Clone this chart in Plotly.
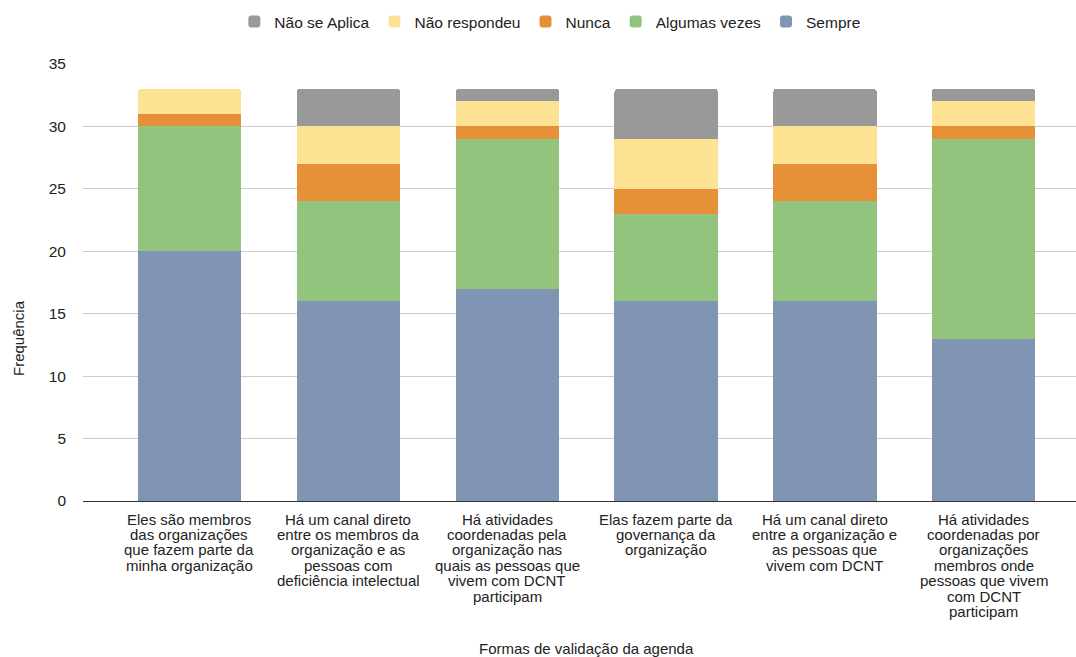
import plotly.graph_objects as go

categories = [
    "Eles são membros<br>das organizações<br>que fazem parte da<br>minha organização",
    "Há um canal direto<br>entre os membros da<br>organização e as<br>pessoas com<br>deficiência intelectual",
    "Há atividades<br>coordenadas pela<br>organização nas<br>quais as pessoas que<br>vivem com DCNT<br>participam",
    "Elas fazem parte da<br>governança da<br>organização",
    "Há um canal direto<br>entre a organização e<br>as pessoas que<br>vivem com DCNT",
    "Há atividades<br>coordenadas por<br>organizações<br>membros onde<br>pessoas que vivem<br>com DCNT<br>participam",
]

sempre = [20, 16, 17, 16, 16, 13]
algumas_vezes = [10, 8, 12, 7, 8, 16]
nunca = [1, 3, 1, 2, 3, 1]
nao_respondeu = [2, 3, 2, 4, 3, 2]
nao_se_aplica = [0, 3, 1, 4, 3, 1]

series = [
    ("Sempre", sempre, "#8094b4"),
    ("Algumas vezes", algumas_vezes, "#93c47d"),
    ("Nunca", nunca, "#e69138"),
    ("Não respondeu", nao_respondeu, "#fde294"),
    ("Não se Aplica", nao_se_aplica, "#999999"),
]

x_idx = list(range(len(categories)))
font_family = "Liberation Sans, Arial, sans-serif"
text_color = "#222222"

W, H = 1076, 657
ML, MR, MT, MB = 83, 0, 64, 156
plot_w = W - ML - MR
plot_h = H - MT - MB


def px_x(px):
    return (px - ML) / plot_w


def px_y(py):
    return (H - MB - py) / plot_h


fig = go.Figure()
for name, vals, color in series:
    fig.add_trace(go.Bar(
        x=x_idx, y=vals, name=name,
        marker=dict(color=color, line=dict(width=0)),
        width=0.65,
    ))

# Category labels: one annotation per line so the wrapped text keeps a tight line pitch
line_pitch = 15.4
for i, label in enumerate(categories):
    for j, line in enumerate(label.split("<br>")):
        fig.add_annotation(
            x=i, xref="x", y=0, yref="paper",
            text=line, showarrow=False,
            xanchor="center", yanchor="middle",
            yshift=-18 - j * line_pitch,
            font=dict(family=font_family, size=15, color=text_color),
        )

# Axis titles
fig.add_annotation(
    x=px_x(586), xref="paper", y=px_y(648), yref="paper",
    text="Formas de validação da agenda", showarrow=False,
    xanchor="center", yanchor="middle",
    font=dict(family=font_family, size=15, color=text_color),
)
fig.add_annotation(
    x=px_x(18), xref="paper", y=px_y(338), yref="paper",
    text="Frequência", showarrow=False, textangle=-90,
    xanchor="center", yanchor="middle",
    font=dict(family=font_family, size=15, color=text_color),
)

fig.update_layout(
    barmode="stack",
    barcornerradius=3,
    width=W, height=H,
    margin=dict(l=ML, r=MR, t=MT, b=MB),
    plot_bgcolor="white", paper_bgcolor="white",
    font=dict(family=font_family, size=15, color=text_color),
    showlegend=True,
    legend=dict(
        orientation="h", traceorder="reversed",
        xref="container", x=0.511, xanchor="center",
        yref="container", y=1 - 22 / H, yanchor="middle",
        font=dict(size=15.5, color=text_color),
        itemwidth=30,
    ),
    xaxis=dict(
        range=[-0.67, 5.58],
        tickmode="array", tickvals=x_idx,
        showticklabels=False,
        showgrid=False, zeroline=False, showline=False, ticks="",
    ),
    yaxis=dict(
        range=[0, 35], dtick=5,
        showgrid=True, gridcolor="#cccccc", gridwidth=1,
        zeroline=True, zerolinecolor="#333333", zerolinewidth=1,
        showline=False, ticks="", ticklabelstandoff=16,
        tickfont=dict(size=15.5, color=text_color),
    ),
)

fig.write_html("out.html")
